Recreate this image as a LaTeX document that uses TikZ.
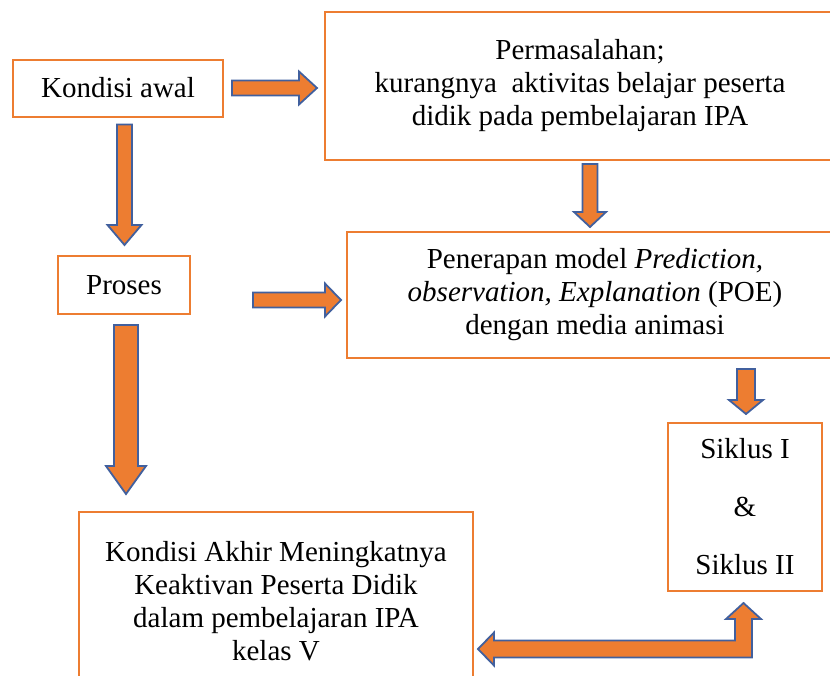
\documentclass[tikz,border=0pt]{standalone}
\usepackage{fontspec}
\setmainfont{Liberation Serif}
\usetikzlibrary{positioning,calc}
\definecolor{oranye}{HTML}{ED7D31}
\definecolor{biru}{HTML}{41609E}
\tikzset{
	kotak/.style={draw=oranye,line width=2pt,fill=white,align=center,inner sep=0pt,
		font=\fontsize{29}{33}\selectfont},
	panah/.style={draw=biru,line width=1.8pt,fill=oranye,line join=miter},
	blok/.style n args={3}{to path={
		(\tikztostart) coordinate (pa) (\tikztotarget) coordinate (pb)
		($(pb)!#3!(pa)$) coordinate (hb)
		($(pa)!#1!90:(pb)$) -- ($(hb)!#1!90:(pb)$) -- ($(hb)!#2!90:(pb)$) -- (pb)
		-- ($(hb)!#2!-90:(pb)$) -- ($(hb)!#1!-90:(pb)$) -- ($(pa)!#1!-90:(pb)$) -- cycle}}
}
\begin{document}
\begin{tikzpicture}[x=1pt,y=-1pt]
	\useasboundingbox (0,0) rectangle (830,675);
	\clip (0,0) rectangle (830,675);
	
	\node[kotak,minimum width=210pt,minimum height=57pt] (awal) at (118,88) {Kondisi awal};
	\node[kotak,minimum width=510pt,minimum height=148pt] (masalah) at (580,86)
		{Permasalahan;\\kurangnya\ \ aktivitas belajar peserta\\didik pada pembelajaran IPA};
	\node[kotak,minimum width=132pt,minimum height=58pt] (proses) at (124,285) {Proses};
	\node[kotak,minimum width=496pt,minimum height=126pt] (penerapan) at (595,295)
		{Penerapan model \textit{Prediction,}\\\textit{observation, Explanation} (POE)\\dengan media animasi};
	\node[kotak,minimum width=154pt,minimum height=168pt] (siklus) at (745,507)
		{Siklus I\\[25pt]\&\\[25pt]Siklus II};
	\node[kotak,minimum width=394pt,minimum height=178pt] (akhir) at (276,601)
		{Kondisi Akhir Meningkatnya\\Keaktivan Peserta Didik\\dalam pembelajaran IPA\\kelas V};
	
	\draw[panah] ($(awal.east)+(8,0)$) to[blok={7.5pt}{16.5pt}{18pt}] ($(masalah.west |- awal.east)+(-7,0)$);
	\draw[panah] ($(proses |- awal.south)+(0.5,7)$) to[blok={7.5pt}{17pt}{20pt}] ($(proses.north)+(0.5,-10)$);
	\draw[panah] ($(masalah.south)+(10,3)$) to[blok={7.5pt}{16pt}{15pt}] ($(masalah.south |- penerapan.north)+(10,-4)$);
	\draw[panah] ($(proses.east)+(62,15)$) to[blok={7.5pt}{16.5pt}{16pt}] ($(penerapan.west)+(-5,5)$);
	\draw[panah] ($(siklus.north |- penerapan.south)+(1,10)$) to[blok={9pt}{17pt}{14pt}] ($(siklus.north)+(1,-8)$);
	\draw[panah] ($(proses.south)+(2,10)$) to[blok={12pt}{20pt}{28pt}] ($(proses.south |- akhir.north)+(2,-17)$);
	
	% panah siku dua arah
	\coordinate (ujungkiri) at ($(akhir.east)+(4,48)$);
	\coordinate (ujungatas) at ($(siklus.south)+(-1.5,11)$);
	\coordinate (siku) at (ujungatas |- ujungkiri);
	\draw[panah] (ujungkiri) -- ($(ujungkiri)+(16,-16.5)$) -- ($(ujungkiri)+(16,-8.5)$)
		-- ($(siku)+(-8.5,-8.5)$) -- ($(ujungatas)+(-8.5,16)$) -- ($(ujungatas)+(-17.5,16)$)
		-- (ujungatas) -- ($(ujungatas)+(17.5,16)$) -- ($(ujungatas)+(8.5,16)$)
		-- ($(siku)+(8.5,8.5)$) -- ($(ujungkiri)+(16,8.5)$) -- ($(ujungkiri)+(16,16.5)$) -- cycle;
	
\end{tikzpicture}
\end{document}
